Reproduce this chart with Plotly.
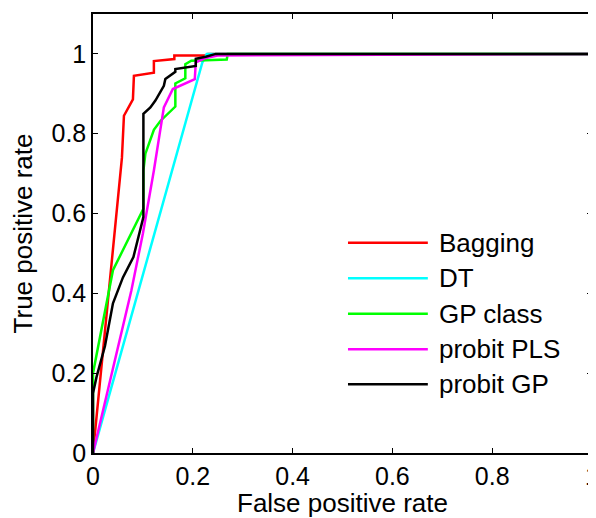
import plotly.graph_objects as go

series_names = ["Bagging", "DT", "GP class", "probit PLS", "probit GP"]
series_colors = ["#ff0000", "#00ffff", "#00ff00", "#ff00ff", "#000000"]

bagging_fpr = [0, 0.058, 0.062, 0.080, 0.082, 0.122, 0.122, 0.163, 0.163, 0.225, 0.230, 1]
bagging_tpr = [0, 0.740, 0.845, 0.886, 0.945, 0.953, 0.982, 0.987, 0.996, 0.996, 1.0, 1]

dt_fpr = [0, 0.219, 0.228, 1]
dt_tpr = [0, 0.978, 1.0, 1]

gp_fpr = [0, 0, 0.040, 0.101, 0.101, 0.105, 0.122, 0.135, 0.165, 0.165, 0.185, 0.185, 0.197, 0.268, 0.270, 1]
gp_tpr = [0, 0.200, 0.458, 0.612, 0.708, 0.750, 0.810, 0.832, 0.868, 0.926, 0.939, 0.974, 0.983, 0.986, 1.0, 1]

pls_fpr = [0, 0.077, 0.100, 0.122, 0.142, 0.160, 0.204, 0.206, 0.226, 0.250, 1]
pls_tpr = [0, 0.408, 0.550, 0.708, 0.866, 0.912, 0.937, 0.979, 0.990, 0.996, 1]

pgp_fpr = [0, 0, 0.007, 0.024, 0.040, 0.060, 0.081, 0.101, 0.101, 0.115, 0.125, 0.142, 0.145, 0.165, 0.165, 0.185, 0.206, 0.206, 0.226, 0.246, 1]
pgp_tpr = [0, 0.150, 0.190, 0.268, 0.375, 0.440, 0.491, 0.591, 0.850, 0.866, 0.883, 0.920, 0.937, 0.955, 0.962, 0.966, 0.970, 0.988, 0.993, 1.0, 1]

x_ticks = [0, 0.2, 0.4, 0.6, 0.8, 1]
x_tick_labels = ["0", "0.2", "0.4", "0.6", "0.8", "1"]
y_ticks = [0, 0.2, 0.4, 0.6, 0.8, 1]
y_tick_labels = ["0", "0.2", "0.4", "0.6", "0.8", "1"]

all_x = [bagging_fpr, dt_fpr, gp_fpr, pls_fpr, pgp_fpr]
all_y = [bagging_tpr, dt_tpr, gp_tpr, pls_tpr, pgp_tpr]

FONT = "Liberation Sans, Arial, sans-serif"
FS = 25
FS_TITLE = 26

fig = go.Figure()
for name, color, xs, ys in zip(series_names, series_colors, all_x, all_y):
    fig.add_trace(go.Scatter(x=xs, y=ys, mode="lines", name=name,
                             line=dict(color=color, width=2.5), showlegend=False))

# manual MATLAB-style legend
leg_x0, leg_x1, leg_tx = 0.511, 0.671, 0.689
leg_y = [0.527, 0.438, 0.349, 0.260, 0.172]
for name, color, ly in zip(series_names, series_colors, leg_y):
    fig.add_shape(type="line", xref="x", yref="y", x0=leg_x0, x1=leg_x1, y0=ly, y1=ly,
                  line=dict(color=color, width=2.5))
    fig.add_annotation(x=leg_tx, y=ly, xref="x", yref="y", text=name, showarrow=False,
                       xanchor="left", yanchor="middle",
                       font=dict(family=FONT, size=FS_TITLE, color="black"))

# page body has an 8px margin, so the figure is sized to fit the 596x518 window
fig.update_layout(
    width=588, height=510,
    margin=dict(l=85, r=4, t=6, b=65),
    paper_bgcolor="white", plot_bgcolor="white",
    font=dict(family=FONT, size=FS, color="black"),
)
fig.update_xaxes(range=[0, 1], tickvals=x_ticks, ticktext=x_tick_labels,
                 ticks="inside", ticklen=5, tickcolor="black",
                 showline=True, linecolor="black", linewidth=1.5, mirror="ticks",
                 showgrid=False, zeroline=False, automargin=False,
                 ticklabeloverflow="allow",
                 title=dict(text="False positive rate", font=dict(size=FS_TITLE), standoff=0),
                 tickfont=dict(size=FS))
fig.update_yaxes(range=[0, 1.1], tickvals=y_ticks, ticktext=y_tick_labels,
                 ticks="inside", ticklen=5, tickcolor="black",
                 showline=True, linecolor="black", linewidth=1.5, mirror="ticks",
                 showgrid=False, zeroline=False, automargin=False,
                 ticklabeloverflow="allow",
                 title=dict(text="True positive rate", font=dict(size=FS_TITLE), standoff=17),
                 tickfont=dict(size=FS))

fig.write_html("out.html")
